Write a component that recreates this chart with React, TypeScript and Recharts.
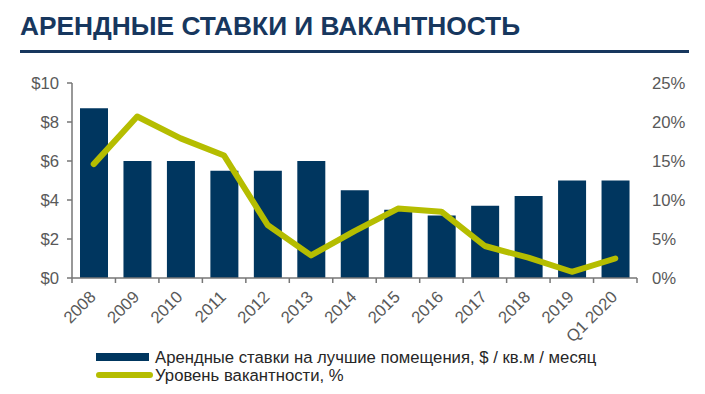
import React from 'react';
import { ComposedChart, Bar, Line, XAxis, YAxis } from 'recharts';

const categories = ['2008', '2009', '2010', '2011', '2012', '2013', '2014', '2015', '2016', '2017', '2018', '2019', 'Q1 2020'];
const rents = [8.7, 6.0, 6.0, 5.5, 5.5, 6.0, 4.5, 3.5, 3.2, 3.7, 4.2, 5.0, 5.0];
const vacancy = [14.6, 20.7, 17.9, 15.7, 6.8, 2.9, 6.0, 8.9, 8.5, 4.1, 2.6, 0.8, 2.5];
const rentTicks = [0, 2, 4, 6, 8, 10];
const vacancyTicks = [0, 5, 10, 15, 20, 25];

const title = 'АРЕНДНЫЕ СТАВКИ И ВАКАНТНОСТЬ';
const legendRent = 'Арендные ставки на лучшие помещения, $ / кв.м / месяц';
const legendVacancy = 'Уровень вакантности, %';

const data = categories.map((c, i) => ({ name: c, rent: rents[i], vacancy: vacancy[i] }));

const NAVY = '#00365F';
const LIME = '#B5BD00';
const TITLE = '#17375E';
const GRAY = '#595959';
const AXIS = '#767676';
const FONT = '"Liberation Sans", Arial, sans-serif';
const FS = 16.7;

const XTick = (props: any) => {
  const { x, y, payload, index, width, visibleTicksCount } = props;
  const count = visibleTicksCount || categories.length;
  const bw = (width || 565) / count;
  const left = x - bw / 2;
  const right = x + bw / 2;
  const ax = x + 3;
  const ay = y + 20;
  return (
    <g>
      <line x1={left} y1={y} x2={left} y2={y + 5} stroke={AXIS} strokeWidth={1.5} />
      {index === count - 1 && (
        <line x1={right} y1={y} x2={right} y2={y + 5} stroke={AXIS} strokeWidth={1.5} />
      )}
      <text
        x={ax}
        y={ay}
        textAnchor="end"
        fill={GRAY}
        fontSize={FS}
        fontFamily={FONT}
        transform={`rotate(-45 ${ax} ${ay})`}
      >
        {payload.value}
      </text>
    </g>
  );
};

export default function App() {
  return (
    <div style={{ position: 'absolute', left: 0, top: 0, width: 705, height: 394, background: '#fff', fontFamily: FONT }}>
      <ComposedChart
        width={705}
        height={394}
        data={data}
        margin={{ top: 83, left: 12, right: 8, bottom: 66 }}
        barCategoryGap="36%"
      >
        <XAxis
          dataKey="name"
          interval={0}
          height={50}
          tickLine={false}
          tickSize={0}
          tickMargin={0}
          axisLine={{ stroke: AXIS, strokeWidth: 1.5 }}
          tick={<XTick />}
        />
        <YAxis
          yAxisId="left"
          orientation="left"
          width={60}
          domain={[0, 10]}
          ticks={rentTicks}
          tickFormatter={(v: number) => `$${v}`}
          axisLine={{ stroke: AXIS, strokeWidth: 1.5 }}
          tickLine={{ stroke: AXIS, strokeWidth: 1.5 }}
          tickSize={5}
          tickMargin={8}
          tick={{ fill: GRAY, fontSize: FS, fontFamily: FONT }}
        />
        <YAxis
          yAxisId="right"
          orientation="right"
          width={60}
          domain={[0, 25]}
          ticks={vacancyTicks}
          tickFormatter={(v: number) => `${v}%`}
          axisLine={false}
          tickLine={false}
          tickSize={0}
          tickMargin={15}
          tick={{ fill: GRAY, fontSize: FS, fontFamily: FONT, textAnchor: 'start' }}
        />
        <Bar dataKey="rent" yAxisId="left" fill={NAVY} barSize={28} isAnimationActive={false} />
        <Line
          dataKey="vacancy"
          yAxisId="right"
          type="linear"
          stroke={LIME}
          strokeWidth={6}
          strokeLinecap="round"
          strokeLinejoin="round"
          dot={false}
          activeDot={false}
          isAnimationActive={false}
        />
      </ComposedChart>
      <svg
        width={705}
        height={394}
        style={{ position: 'absolute', left: 0, top: 0, pointerEvents: 'none' }}
      >
        <text x={20} y={35} fill={TITLE} fontSize={26.3} fontWeight="bold" fontFamily={FONT}>
          {title}
        </text>
        <rect x={20} y={50} width={669} height={3} fill={TITLE} />
        <rect x={96} y={353} width={53} height={8} fill={NAVY} />
        <text x={155} y={362.5} fill="#262626" fontSize={FS} fontFamily={FONT}>
          {legendRent}
        </text>
        <line x1={99} y1={375} x2={150} y2={375} stroke={LIME} strokeWidth={6} strokeLinecap="round" />
        <text x={155} y={380.5} fill="#262626" fontSize={FS} fontFamily={FONT}>
          {legendVacancy}
        </text>
      </svg>
    </div>
  );
}
